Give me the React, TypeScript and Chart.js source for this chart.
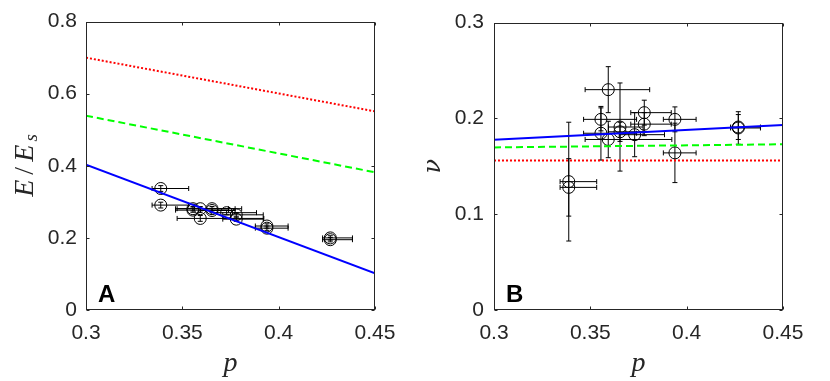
import React, { useEffect, useRef } from "react";
import { Chart, registerables } from "chart.js";

Chart.register(...registerables);

// ---------- data ----------
const pValues = [0.3388, 0.3388, 0.3555, 0.3555, 0.3593, 0.3593, 0.3654, 0.3654, 0.373, 0.378, 0.378, 0.3939, 0.3939, 0.4268, 0.4268];
const pErrLow = [0.0045, 0.0045, 0.009, 0.009, 0.012, 0.012, 0.006, 0.006, 0.008, 0.007, 0.007, 0.006, 0.006, 0.004, 0.004];
const pErrHigh = [0.0145, 0.0145, 0.0185, 0.0185, 0.0215, 0.033, 0.012, 0.012, 0.0155, 0.014, 0.014, 0.011, 0.011, 0.0115, 0.0115];

const eValues = [0.337, 0.291, 0.281, 0.277, 0.281, 0.254, 0.281, 0.276, 0.27, 0.264, 0.252, 0.233, 0.227, 0.2, 0.195];
const eErr = [0.008, 0.008, 0.006, 0.006, 0.006, 0.008, 0.006, 0.006, 0.006, 0.006, 0.006, 0.006, 0.006, 0.006, 0.006];

const nuValues = [0.134, 0.128, 0.199, 0.1845, 0.23, 0.178, 0.191, 0.186, 0.183, 0.206, 0.194, 0.199, 0.164, 0.19, 0.191];
const nuErr = [0.062, 0.03, 0.012, 0.028, 0.024, 0.019, 0.046, 0.01, 0.023, 0.013, 0.012, 0.013, 0.031, 0.017, 0.013];

const xLimits = [0.3, 0.45];
const xTicks = [0.3, 0.35, 0.4, 0.45];
const eTicks = [0, 0.2, 0.4, 0.6, 0.8];
const nuTicks = [0, 0.1, 0.2, 0.3];

const eModelBlue = [0.403, 0.102];
const eModelGreen = [0.539, 0.382];
const eModelRed = [0.7, 0.551];
const nuModelBlue = [0.1776, 0.193];
const nuModelGreen = [0.1697, 0.173];
const nuModelRed = [0.156, 0.156];

// ---------- styles ----------
const SANS = '"Liberation Sans", Arial, Helvetica, sans-serif';
const SERIF = '"Liberation Serif", "Times New Roman", serif';
const SERIF2 = '"DejaVu Serif", "Liberation Serif", serif';
const AXIS_COLOR = "#262626";

type Part = { t: string; font: string; adv: number; dy: number };

type PanelCfg = {
  yValues: number[];
  yErr: number[];
  yTicks: number[];
  yMax: number;
  blue: number[];
  green: number[];
  red: number[];
  letter: string;
  yTitle: Part[];
  yTitleX: number;
  yAxisWidth: number;
  rightPad: number;
  tickPadY: number;
};

const CW = 415;
const CH = 381;

function drawParts(ctx: CanvasRenderingContext2D, parts: Part[]) {
  const total = parts.reduce((s, p) => s + p.adv, 0);
  let x = -total / 2;
  ctx.textAlign = "left";
  ctx.textBaseline = "alphabetic";
  for (const p of parts) {
    ctx.font = p.font;
    const w = ctx.measureText(p.t).width;
    ctx.fillText(p.t, x + (p.adv - w) / 2, p.dy);
    x += p.adv;
  }
}

function makePlugin(cfg: PanelCfg) {
  return {
    id: "panelDecor",
    beforeDatasetsDraw(chart: any) {
      const { ctx, chartArea: a } = chart;
      const xs = chart.scales.x;
      const ys = chart.scales.y;
      ctx.save();
      ctx.beginPath();
      ctx.rect(a.left, a.top, a.right - a.left, a.bottom - a.top);
      ctx.clip();
      ctx.strokeStyle = "#000";
      ctx.lineWidth = 1;
      const cap = 2.5;
      for (let i = 0; i < pValues.length; i++) {
        const px = xs.getPixelForValue(pValues[i]);
        const py = ys.getPixelForValue(cfg.yValues[i]);
        const x0 = xs.getPixelForValue(pValues[i] - pErrLow[i]);
        const x1 = xs.getPixelForValue(pValues[i] + pErrHigh[i]);
        const y0 = ys.getPixelForValue(cfg.yValues[i] - cfg.yErr[i]);
        const y1 = ys.getPixelForValue(cfg.yValues[i] + cfg.yErr[i]);
        ctx.beginPath();
        ctx.moveTo(px, y0);
        ctx.lineTo(px, y1);
        ctx.moveTo(px - cap, y0);
        ctx.lineTo(px + cap, y0);
        ctx.moveTo(px - cap, y1);
        ctx.lineTo(px + cap, y1);
        ctx.moveTo(x0, py);
        ctx.lineTo(x1, py);
        ctx.moveTo(x0, py - cap);
        ctx.lineTo(x0, py + cap);
        ctx.moveTo(x1, py - cap);
        ctx.lineTo(x1, py + cap);
        ctx.stroke();
      }
      ctx.restore();
    },
    afterDraw(chart: any) {
      const { ctx, chartArea: a } = chart;
      const xs = chart.scales.x;
      const ys = chart.scales.y;
      ctx.save();
      ctx.strokeStyle = AXIS_COLOR;
      ctx.lineWidth = 1;
      const L = Math.round(a.left) + 0.5;
      const R = Math.round(a.right) - 0.5;
      const T = Math.round(a.top) + 0.5;
      const B = Math.round(a.bottom) - 0.5;
      ctx.strokeRect(L, T, R - L, B - T);
      const tl = 3;
      ctx.beginPath();
      for (const v of xTicks) {
        const px = Math.round(xs.getPixelForValue(v)) + 0.5;
        ctx.moveTo(px, B);
        ctx.lineTo(px, B - tl);
        ctx.moveTo(px, T);
        ctx.lineTo(px, T + tl);
      }
      for (const v of cfg.yTicks) {
        const py = Math.round(ys.getPixelForValue(v)) + 0.5;
        ctx.moveTo(L, py);
        ctx.lineTo(L + tl, py);
        ctx.moveTo(R, py);
        ctx.lineTo(R - tl, py);
      }
      ctx.stroke();

      ctx.fillStyle = AXIS_COLOR;
      ctx.save();
      ctx.translate((a.left + a.right) / 2, 371);
      drawParts(ctx, [{ t: "p", font: `italic 28px ${SERIF}`, adv: 16, dy: 0 }]);
      ctx.restore();
      ctx.save();
      ctx.translate(cfg.yTitleX, (a.top + a.bottom) / 2);
      ctx.rotate(-Math.PI / 2);
      drawParts(ctx, cfg.yTitle);
      ctx.restore();
      ctx.fillStyle = "#000";
      ctx.font = `bold 24px ${SANS}`;
      ctx.textAlign = "left";
      ctx.textBaseline = "alphabetic";
      ctx.fillText(cfg.letter, a.left + 12, a.bottom - 8);
      ctx.restore();
    },
  };
}

function buildConfig(cfg: PanelCfg): any {
  const line = (vals: number[], color: string, dash: number[]) => ({
    type: "line",
    data: [
      { x: xLimits[0], y: vals[0] },
      { x: xLimits[1], y: vals[1] },
    ],
    borderColor: color,
    borderWidth: 2,
    borderDash: dash,
    pointRadius: 0,
    fill: false,
    tension: 0,
  });
  const tickFont = { family: SANS, size: 21 };
  return {
    type: "scatter",
    data: {
      datasets: [
        line(cfg.blue, "#0000ff", []),
        line(cfg.green, "#00ff00", [7, 4]),
        line(cfg.red, "#ff0000", [2, 2]),
        {
          type: "scatter",
          data: pValues.map((p, i) => ({ x: p, y: cfg.yValues[i] })),
          pointRadius: 6,
          pointStyle: "circle",
          borderColor: "#000",
          backgroundColor: "rgba(0,0,0,0)",
          borderWidth: 1,
        },
      ],
    },
    options: {
      responsive: false,
      animation: false,
      events: [],
      layout: { padding: { top: 20, right: cfg.rightPad, left: 0, bottom: 0 } },
      plugins: { legend: { display: false }, tooltip: { enabled: false } },
      scales: {
        x: {
          type: "linear",
          min: xLimits[0],
          max: xLimits[1],
          grid: { display: false, drawTicks: false },
          border: { display: false },
          ticks: { padding: 11, font: tickFont, color: AXIS_COLOR, autoSkip: false, maxRotation: 0, callback: (v: number) => String(v) },
          afterBuildTicks: (s: any) => {
            s.ticks = xTicks.map((v) => ({ value: v }));
          },
          afterFit: (s: any) => {
            s.height = 71;
          },
        },
        y: {
          type: "linear",
          min: 0,
          max: cfg.yMax,
          grid: { display: false, drawTicks: false },
          border: { display: false },
          ticks: { padding: cfg.tickPadY, font: tickFont, color: AXIS_COLOR, autoSkip: false, callback: (v: number) => String(v) },
          afterBuildTicks: (s: any) => {
            s.ticks = cfg.yTicks.map((v) => ({ value: v }));
          },
          afterFit: (s: any) => {
            s.width = cfg.yAxisWidth;
          },
        },
      },
    },
    plugins: [makePlugin(cfg)],
  };
}

const leftCfg: PanelCfg = {
  yValues: eValues,
  yErr: eErr,
  yTicks: eTicks,
  yMax: 0.8,
  blue: eModelBlue,
  green: eModelGreen,
  red: eModelRed,
  letter: "A",
  yTitle: [
    { t: "E", font: `italic 28px ${SERIF}`, adv: 21, dy: 0 },
    { t: "/", font: `28px ${SERIF}`, adv: 14, dy: 0 },
    { t: "E", font: `italic 28px ${SERIF}`, adv: 21, dy: 0 },
    { t: "s", font: `italic 19px ${SERIF}`, adv: 10, dy: 4 },
  ],
  yTitleX: 33,
  yAxisWidth: 86,
  rightPad: CW - 375,
  tickPadY: 9,
};

const rightCfg: PanelCfg = {
  yValues: nuValues,
  yErr: nuErr,
  yTicks: nuTicks,
  yMax: 0.3,
  blue: nuModelBlue,
  green: nuModelGreen,
  red: nuModelRed,
  letter: "B",
  yTitle: [{ t: "ν", font: `italic 24px ${SERIF2}`, adv: 14, dy: 0 }],
  yTitleX: 440 - 415,
  yAxisWidth: 494 - 415,
  rightPad: CW - (783 - 415),
  tickPadY: 10,
};

function Panel({ cfg, left }: { cfg: PanelCfg; left: number }) {
  const ref = useRef<HTMLCanvasElement>(null);
  useEffect(() => {
    const chart = new Chart(ref.current as HTMLCanvasElement, buildConfig(cfg));
    return () => chart.destroy();
  }, [cfg]);
  return (
    <canvas
      ref={ref}
      width={CW}
      height={CH}
      style={{ position: "absolute", left, top: 0, width: CW, height: CH, display: "block" }}
    />
  );
}

export default function App() {
  return (
    <div style={{ position: "fixed", left: 0, top: 0, width: 830, height: 381, background: "#fff", overflow: "hidden" }}>
      <Panel cfg={leftCfg} left={0} />
      <Panel cfg={rightCfg} left={415} />
    </div>
  );
}
